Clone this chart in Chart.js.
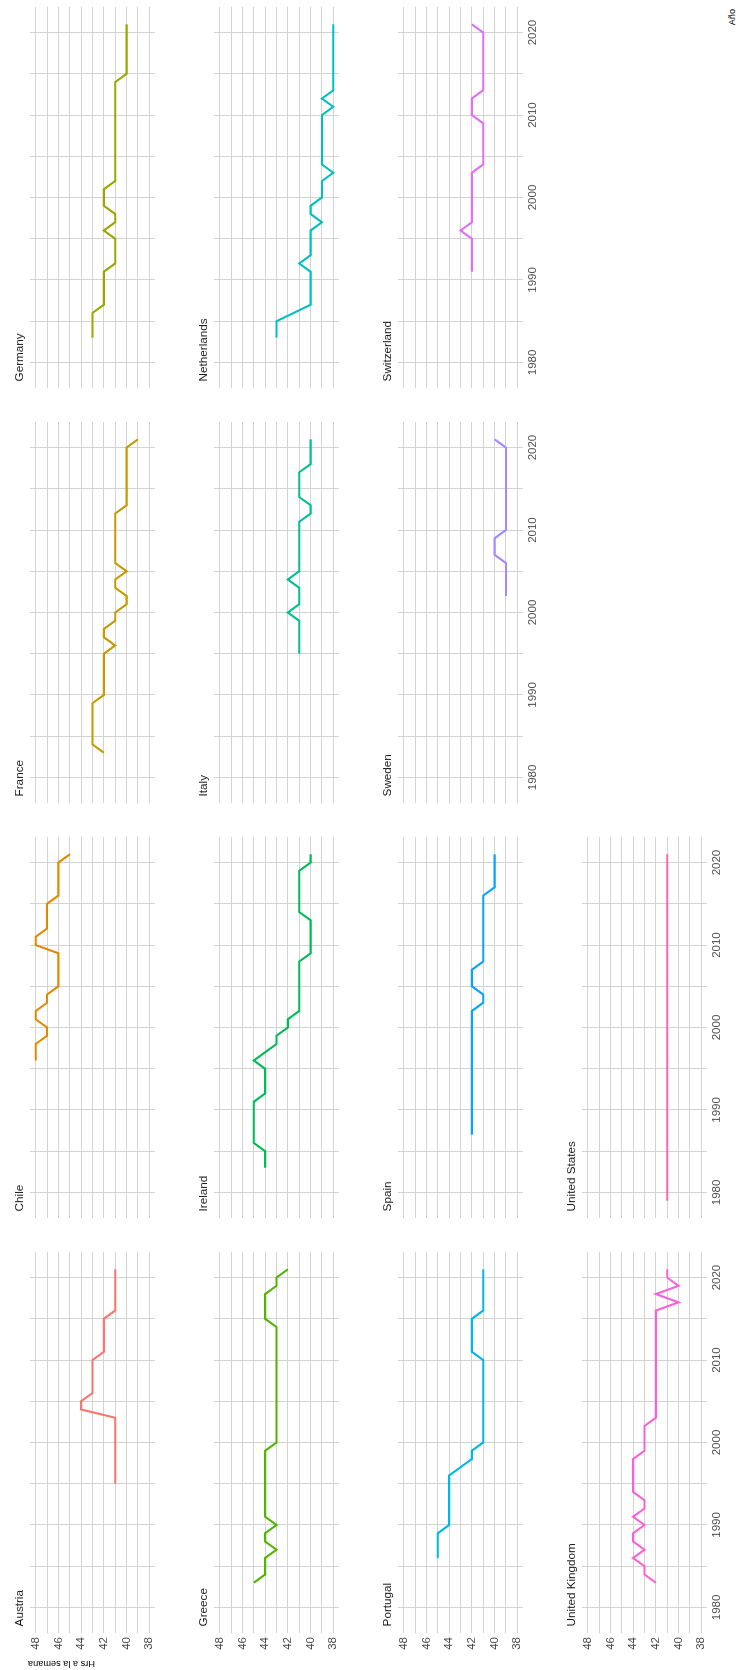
<!DOCTYPE html>
<html>
<head>
<meta charset="utf-8">
<script src="https://cdn.jsdelivr.net/npm/chart.js@4.4.1/dist/chart.umd.min.js"></script>
<style>
  html, body { margin: 0; padding: 0; background: #fff; overflow: hidden; width: 736px; height: 1670px; }
  /* the faceted figure is laid out landscape, then turned a quarter turn */
  #plot { position: absolute; left: 0; top: 0; width: 1670px; height: 736px;
          transform-origin: 0 0; transform: translate(0, 1670px) rotate(-90deg); background: #fff; }
  #plot canvas { position: absolute; }
  .strip { position: absolute; font-family: "Liberation Sans", Arial, sans-serif; font-size: 11.7px;
           line-height: 12px; color: #1a1a1a; white-space: nowrap; }
  .ytitle { position: absolute; width: 200px; text-align: right; font-family: "Liberation Sans", Arial, sans-serif;
            font-size: 9.2px; line-height: 10px; color: #000; white-space: nowrap;
            transform-origin: 0 0; transform: rotate(-90deg); }
  .xtitle { position: absolute; width: 100px; text-align: right; font-family: "Liberation Sans", Arial, sans-serif;
            font-size: 9.2px; line-height: 10px; color: #000; white-space: nowrap; }
</style>
</head>
<body>
<div id="plot"></div>
<script>
// Weekly working hours by country (Hrs a la semana), one facet per country
const countries = ["Austria", "Chile", "France", "Germany", "Greece", "Ireland", "Italy",
                   "Netherlands", "Portugal", "Spain", "Sweden", "Switzerland",
                   "United Kingdom", "United States"];
const colors = ["#F8766D", "#E38900", "#C49A00", "#99A800", "#53B400", "#00BC56", "#00C094",
                "#00BFC4", "#00B6EB", "#06A4FF", "#A58AFF", "#DF70F8", "#FB61D7", "#FF66A8"];
const startYears = [1995, 1996, 1983, 1983, 1983, 1983, 1995, 1983, 1986, 1987, 2002, 1991, 1983, 1979];

const austria = [41,41,41,41,41,41,41,41,41,44,44,43,43,43,43,43,42,42,42,42,42,41,41,41,41,41,41];
const chile = [48,48,48,47,47,48,48,47,47,46,46,46,46,46,48,48,47,47,47,47,46,46,46,46,46,45];
const france = [42,43,43,43,43,43,43,42,42,42,42,42,42,41,42,42,41,41,40,40,41,41,40,41,41,41,41,41,41,41,40,40,40,40,40,40,40,40,39];
const germany = [43,43,43,43,42,42,42,42,42,41,41,41,41,42,41,41,42,42,42,41,41,41,41,41,41,41,41,41,41,41,41,41,40,40,40,40,40,40,40];
const greece = [45,44,44,44,43,44,44,43,44,44,44,44,44,44,44,44,44,43,43,43,43,43,43,43,43,43,43,43,43,43,43,43,44,44,44,44,43,43,42];
const ireland = [44,44,44,45,45,45,45,45,45,44,44,44,44,45,44,43,43,42,42,41,41,41,41,41,41,41,40,40,40,40,40,41,41,41,41,41,41,40,40];
const italy = [41,41,41,41,41,42,41,41,41,42,41,41,41,41,41,41,41,40,40,41,41,41,41,40,40,40,40];
const netherlands = [43,43,43,null,40,40,40,40,40,41,40,40,40,40,39,40,40,39,39,39,38,39,39,39,39,39,39,39,38,39,38,38,38,38,38,38,38,38,38];
const portugal = [45,45,45,45,44,44,44,44,44,44,44,43,42,42,41,41,41,41,41,41,41,41,41,41,41,42,42,42,42,42,41,41,41,41,41,41];
const spain = [42,42,42,42,42,42,42,42,42,42,42,42,42,42,42,42,41,41,42,42,42,41,41,41,41,41,41,41,41,41,40,40,40,40,40];
const sweden = [39,39,39,39,39,40,40,40,39,39,39,39,39,39,39,39,39,39,39,40];
const switzerland = [42,42,42,42,42,43,42,42,42,42,42,42,42,41,41,41,41,41,41,42,42,42,41,41,41,41,41,41,41,41,42];
const unitedKingdom = [42,43,43,44,43,44,44,43,44,43,43,44,44,44,44,44,43,43,43,43,42,42,42,42,42,42,42,42,42,42,42,42,42,42,40,42,40,41,41];
const unitedStates = [41,41,41,41,41,41,41,41,41,41,41,41,41,41,41,41,41,41,41,41,41,41,41,41,41,41,41,41,41,41,41,41,41,41,41,41,41,41,41,41,41,41,41];

const hoursByCountry = [austria, chile, france, germany, greece, ireland, italy, netherlands,
                        portugal, spain, sweden, switzerland, unitedKingdom, unitedStates];

// axis breaks
const yearTicks = [1980, 1985, 1990, 1995, 2000, 2005, 2010, 2015, 2020];
const yearLabels = [1980, 1990, 2000, 2010, 2020];
const hourTicks = [38, 39, 40, 41, 42, 43, 44, 45, 46, 47, 48];
const hourLabels = [38, 40, 42, 44, 46, 48];

const xTitle = "Año";
const yTitle = "Hrs a la semana";

// facet geometry (landscape frame)
const PANEL_X = [37, 452, 867, 1282];
const PANEL_Y = [30, 214, 398, 582];
const PW = 381, PH = 125;
const ML = 36, MT = 12, MB = 22;
const GRID = "#d3d3d3";
const TICK = "#4d4d4d";
const FONT = "'Liberation Sans', Arial, sans-serif";

const plot = document.getElementById("plot");

hoursByCountry.forEach((values, i) => {
  const row = Math.floor(i / 4), col = i % 4;
  const left = PANEL_X[col], top = PANEL_Y[row];
  const showX = row === 3 || (row === 2 && col >= 2);
  const showY = col === 0;

  const cv = document.createElement("canvas");
  cv.width = PW + ML; cv.height = PH + MT + MB;
  cv.style.left = (left - ML) + "px";
  cv.style.top = (top - MT) + "px";
  cv.style.width = cv.width + "px";
  cv.style.height = cv.height + "px";
  plot.appendChild(cv);

  const strip = document.createElement("div");
  strip.className = "strip";
  strip.textContent = countries[i];
  strip.style.left = (left + 6.6) + "px";
  strip.style.top = (top - 7 - 10.05) + "px";
  plot.appendChild(strip);

  const pts = values.map((v, k) => ({ x: startYears[i] + k, y: v }));

  new Chart(cv, {
    type: "line",
    data: { datasets: [{ data: pts, borderColor: colors[i], borderWidth: 2.1, pointRadius: 0,
                         tension: 0, spanGaps: true, fill: false }] },
    options: {
      responsive: false, animation: false, devicePixelRatio: 1, events: [],
      layout: { padding: { top: MT, left: 0, right: 0, bottom: 0 } },
      plugins: { legend: { display: false }, tooltip: { enabled: false }, title: { display: false } },
      scales: {
        x: {
          type: "linear", bounds: "data", min: 1976.9, max: 2023.1,
          afterBuildTicks: sc => { sc.ticks = yearTicks.map(v => ({ value: v })); },
          afterFit: sc => { sc.height = MB; },
          grid: { color: GRID, lineWidth: 1, drawTicks: false },
          border: { display: false },
          ticks: { padding: 3, color: TICK, autoSkip: false, maxRotation: 0, minRotation: 0,
                   font: { family: FONT, size: 11.5 },
                   callback: v => (showX && yearLabels.includes(v)) ? String(v) : "" }
        },
        y: {
          type: "linear", bounds: "data", min: 37.5, max: 48.5,
          afterBuildTicks: sc => { sc.ticks = hourTicks.map(v => ({ value: v })); },
          afterFit: sc => { sc.width = ML; },
          grid: { color: GRID, lineWidth: 1, drawTicks: false },
          border: { display: false },
          ticks: { padding: 4, color: TICK, autoSkip: false,
                   font: { family: FONT, size: 11.5 },
                   callback: v => (showY && hourLabels.includes(v)) ? String(v) : "" }
        }
      }
    }
  });
});

// axis titles
const yt = document.createElement("div");
yt.className = "ytitle";
yt.textContent = yTitle;
yt.style.left = "0.8px";
yt.style.top = (28 + 200) + "px";
plot.appendChild(yt);

const xt = document.createElement("div");
xt.className = "xtitle";
xt.textContent = xTitle;
xt.style.left = (1661 - 100) + "px";
xt.style.top = (735 - 8.2) + "px";
plot.appendChild(xt);
</script>
</body>
</html>
